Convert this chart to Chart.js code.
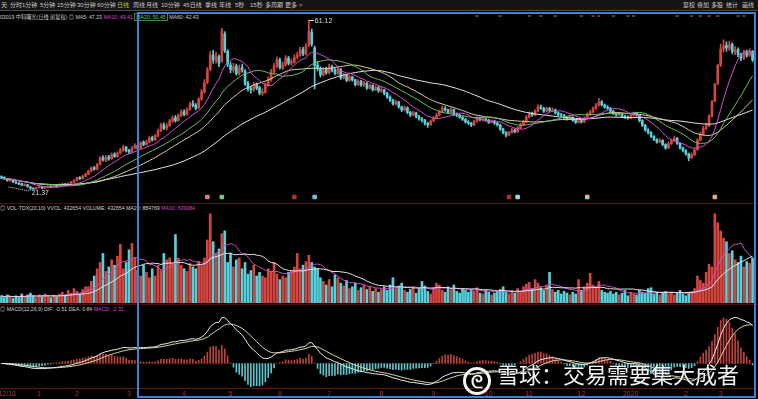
<!DOCTYPE html>
<html>
<head>
<meta charset="utf-8">
<script src="https://cdn.jsdelivr.net/npm/chart.js@4.4.0/dist/chart.umd.min.js"></script>
<style>
  body { margin:0; background:#000; width:758px; height:399px; overflow:hidden; position:relative;
         font-family:"Liberation Sans","Noto Sans CJK SC",sans-serif; }
  .abs { position:absolute; white-space:nowrap; }
  #tb { left:0; top:0; width:758px; height:10px; background:#151515; border-bottom:1px solid #4a4a4a; }
  #tb span, #tbr span { position:absolute; top:1px; font-size:6px; line-height:8px; color:#c8c8c8; }
  #tb span.on { color:#b8c85a; }
  .lg { font-size:5.2px; line-height:6px; color:#d0d0d0; }
  .lg .m { color:#d048d0; }
  .lg .g { color:#7cc070; border:1px solid #3f8a3f; padding:0 1px; }
  .sepr { left:0; width:758px; height:1px; background:#4a0e0e; }
  #box { left:137px; top:12px; width:619px; height:386px; box-sizing:border-box; border:2px solid #3a83d4; pointer-events:none; }
  .pane { position:absolute; left:0; width:754px; }
  #wm { left:463px; top:359px; color:#f4f4f4; font-size:22px; line-height:28px;
        text-shadow:0 0 2px #000; font-family:"Noto Sans CJK SC",sans-serif; }
  #logo { display:inline-block; width:22px; height:22px; border:3px solid #f4f4f4; border-radius:50%;
          vertical-align:-5px; margin-right:6px; text-align:center; font-size:17px; line-height:21px; font-weight:bold; }
</style>
</head>
<body>
<div id="tb" class="abs">
  <span style="left:1px">天</span><span style="left:6px;color:#777">|</span>
  <span style="left:10px">分时</span><span style="left:22px">1分钟</span><span style="left:40px">5分钟</span>
  <span style="left:57px">15分钟</span><span style="left:77px">30分钟</span><span style="left:97px">60分钟</span>
  <span class="on" style="left:117px">日线</span><span style="left:133px">周线</span><span style="left:146px">月线</span>
  <span style="left:161px">10分钟</span><span style="left:183px">45日线</span><span style="left:205px">季线</span>
  <span style="left:219px">年线</span><span style="left:235px">5秒</span><span style="left:250px">15秒</span>
  <span style="left:265px">多周期</span><span style="left:285px">更多 &gt;</span>
</div>
<div id="tbr" class="abs" style="left:0;top:0">
  <span style="left:683px">复权</span><span style="left:697px">叠加</span><span style="left:711px">多股</span>
  <span style="left:726px">统计</span><span style="left:742px">画线</span>
</div>

<div class="abs lg" style="left:-3px;top:14px">603019 中科曙光(日线 前复权) ◎ MA5: 47.23 <span class="m">MA10: 49.41</span> <span class="g">MA20: 50.45</span> MA60: 42.43</div>

<div class="pane" id="pMain" style="top:12px;height:190px"><canvas id="cMain"></canvas></div>
<div class="abs sepr" style="top:203px"></div>
<div class="abs lg" style="left:0;top:205px">◎ VOL-TDX(20,10) VVOL: 432654 VOLUME: 432654 MA20: 884769 <span class="m">MA10: 639984</span></div>
<div class="pane" id="pVol" style="top:212px;height:91px"><canvas id="cVol"></canvas></div>
<div class="abs sepr" style="top:304px"></div>
<div class="abs lg" style="left:0;top:306px">◎ MACD(12,26,9) DIF: -0.51 DEA: 0.84 <span class="m">MACD: -2.31</span></div>
<div class="pane" id="pMacd" style="top:310px;height:89px"><canvas id="cMacd"></canvas></div>

<div id="box" class="abs"></div>
<div id="wm" class="abs"><span id="logo">ᘓ</span>雪球：交易需要集大成者</div>

<script>
// daily candles (front-adjusted price)
const opens = [
  24.5,24.3,23.9,23.5,23.8,23.2,23.0,22.9,22.4,22.6, 22.1,21.8,21.6,21.9,22.1,21.8,22.0,22.3,22.1,22.5,
  22.2,22.6,22.8,22.5,22.9,23.1,23.6,24.3,24.0,24.6, 25.0,25.8,26.6,26.2,27.4,28.9,28.3,29.1,28.7,29.7,
  29.2,30.0,30.6,31.4,30.7,30.3,31.2,31.8,31.1,32.5, 32.0,32.6,33.6,33.1,34.0,35.2,36.6,35.8,36.4,37.5,
  38.3,37.6,38.8,39.7,39.0,40.2,41.6,41.2,40.6,42.6, 44.3,46.6,49.5,53.0,51.6,52.6,51.5,57.8,53.8,50.6,
  49.4,50.3,48.6,50.0,49.2,46.3,45.1,44.8,46.0,45.3, 44.0,44.2,45.9,47.1,49.0,50.4,51.8,49.9,50.6,52.2,
  51.0,51.2,52.5,52.9,54.2,53.1,55.2,58.2,54.6,50.6, 49.8,48.3,49.6,48.8,50.2,49.4,48.6,49.5,47.6,48.2,
  47.0,47.8,47.1,46.0,46.8,45.9,46.3,45.2,45.8,44.8, 45.3,44.5,44.8,44.0,43.1,42.4,41.5,42.0,40.8,40.1,
  40.6,39.5,38.9,39.4,38.5,38.0,37.7,37.0,36.6,37.5, 38.2,38.9,39.6,40.5,40.1,39.5,40.2,39.0,38.9,38.4,
  37.9,37.3,37.0,36.6,37.4,38.2,37.8,38.0,37.7,37.2, 37.5,37.0,36.6,35.6,34.8,34.2,34.8,35.4,35.0,35.9,
  36.6,37.3,38.4,39.2,38.9,39.8,40.8,40.5,39.8,40.4, 40.0,40.1,39.4,39.0,38.9,38.3,38.0,38.4,37.7,37.2,
  37.6,37.3,38.2,39.0,39.6,40.4,41.2,42.0,41.3,40.8, 40.5,39.8,39.3,38.9,39.2,38.6,38.4,38.2,38.8,39.3,
  38.9,37.6,36.5,35.4,34.8,33.9,33.2,32.6,33.0,32.0, 31.2,32.2,32.9,33.5,32.3,31.2,30.6,29.8,28.9,29.6,
  30.8,33.0,34.5,35.8,36.4,38.6,42.1,46.3,50.6,54.4, 55.2,54.5,55.4,53.6,54.2,53.0,52.2,53.5,52.9,53.8
];
const highs = [
  24.7,24.5,24.0,24.0,23.9,23.4,23.1,23.0,22.8,22.7, 22.2,21.9,22.0,22.3,22.2,22.2,22.5,22.4,22.6,22.6,
  22.8,23.0,22.9,23.1,23.4,23.8,24.4,24.5,24.8,25.3, 26.0,26.8,26.9,27.6,29.2,29.4,29.4,29.5,30.0,30.1,
  30.3,31.1,31.8,31.6,30.9,31.5,32.2,32.0,32.7,32.9, 33.0,33.9,34.0,34.4,35.6,37.0,37.1,36.9,37.9,38.7,
  38.8,39.2,40.1,40.2,40.6,42.0,42.3,41.6,43.0,44.9, 47.2,50.0,53.8,54.0,53.6,53.0,59.2,58.4,54.2,51.3,
  51.0,50.8,50.6,50.8,49.5,46.8,45.6,46.5,46.4,45.6, 45.0,46.4,47.8,49.6,51.0,52.5,52.2,51.3,52.8,52.6,
  52.0,53.0,53.6,54.8,54.7,55.6,61.12,59.0,55.0,51.5, 50.2,50.0,50.1,50.8,50.6,49.8,50.1,49.8,48.7,48.4,
  48.2,48.0,47.3,47.2,47.0,46.8,46.6,46.2,46.0,45.8, 45.6,45.4,45.0,44.2,43.4,42.6,42.4,42.1,41.0,41.0,
  40.8,39.8,39.8,39.6,38.8,38.3,37.9,37.2,37.8,38.6, 39.3,40.0,41.0,40.9,40.3,40.6,40.3,39.4,39.1,38.6,
  38.1,37.6,37.2,37.7,38.5,38.4,38.4,38.2,37.9,37.8, 37.7,37.2,36.8,35.8,35.0,35.1,35.8,35.6,36.2,37.0,
  37.7,38.8,39.6,39.6,40.2,41.3,41.2,40.7,40.8,40.7, 40.6,40.3,39.6,39.3,39.0,38.5,38.7,38.5,37.9,37.9,
  37.8,38.5,39.4,40.0,40.8,41.6,42.8,42.3,41.5,41.1, 40.7,40.0,39.5,39.5,39.3,38.9,38.7,39.1,39.6,39.5,
  39.0,37.8,36.7,35.7,35.0,34.1,33.4,33.4,33.1,32.2, 32.6,33.3,34.0,33.6,32.4,31.4,30.8,30.0,30.0,31.1,
  33.4,34.9,36.2,37.0,39.0,42.3,46.2,50.8,55.5,56.5, 56.0,56.2,55.8,54.9,54.6,53.4,54.0,54.1,54.4,54.0
];
const lows = [
  24.0,23.8,23.4,23.4,23.1,22.8,22.6,22.4,22.3,22.0, 21.37,21.5,21.5,21.8,21.7,21.7,21.9,21.9,22.0,22.0,
  22.1,22.4,22.3,22.4,22.8,23.0,23.5,23.8,23.9,24.4, 24.9,25.6,26.0,26.0,27.2,28.1,28.0,28.3,28.5,29.0,
  29.0,29.8,30.4,30.3,29.9,30.1,31.0,30.7,30.9,31.7, 31.8,32.4,32.8,32.9,33.8,35.0,35.5,35.4,36.2,37.2,
  37.2,37.4,38.5,38.7,38.8,40.0,40.8,40.1,40.4,42.3, 44.0,46.2,49.2,51.0,51.0,50.2,51.2,53.5,50.2,48.8,
  48.9,48.2,48.2,48.9,45.8,44.5,44.0,44.4,44.8,43.6, 43.5,44.0,45.6,46.8,48.6,50.0,49.6,49.5,50.3,50.6,
  50.5,51.0,52.0,52.6,52.8,52.9,54.8,55.0,45.0,49.2, 47.8,48.0,48.4,48.5,49.0,48.3,48.4,47.2,47.3,46.7,
  46.8,46.8,45.7,45.8,45.6,45.6,44.9,45.0,44.5,44.6, 44.2,44.2,43.6,42.8,42.0,41.2,41.2,40.5,39.7,39.8,
  39.2,38.5,38.7,38.2,37.7,37.3,36.6,36.0,36.4,37.3, 38.0,38.7,39.4,39.8,39.2,39.3,38.7,38.5,38.1,37.6,
  37.0,36.7,36.2,36.4,37.2,37.5,37.5,37.4,36.9,37.0, 36.7,36.3,35.3,34.5,33.8,34.0,34.6,34.7,34.8,35.7,
  36.4,37.1,38.2,38.6,38.7,39.6,40.2,39.5,39.6,39.7, 39.7,39.1,38.7,38.6,38.0,37.7,37.8,37.4,36.9,37.0,
  37.0,37.1,38.0,38.8,39.4,40.2,41.0,41.0,40.5,40.2, 39.5,39.0,38.6,38.7,38.3,38.1,37.9,38.0,38.6,38.6,
  37.3,36.2,35.1,34.5,33.6,32.9,32.3,32.4,31.7,30.9, 31.0,32.0,32.7,32.0,30.9,30.3,29.5,28.2,28.7,29.4,
  30.6,32.8,34.2,35.5,36.2,38.4,42.0,46.0,50.2,53.6, 53.8,54.0,53.2,53.0,52.5,51.6,51.9,52.4,52.6,51.4
];
const closes = [
  24.2,24.0,23.6,23.8,23.3,23.0,22.8,22.5,22.6,22.2, 21.8,21.6,21.9,22.1,21.8,22.0,22.3,22.1,22.4,22.2,
  22.6,22.8,22.5,22.9,23.2,23.6,24.2,24.0,24.6,25.1, 25.8,26.5,26.2,27.3,28.9,28.4,29.0,28.6,29.6,29.2,
  30.0,30.7,31.4,30.6,30.2,31.2,31.8,31.0,32.4,32.0, 32.6,33.5,33.1,34.0,35.2,36.6,35.8,36.4,37.5,38.2,
  37.6,38.8,39.6,39.0,40.2,41.5,41.2,40.5,42.6,44.3, 46.5,49.4,52.9,51.8,52.5,51.0,58.6,54.0,50.8,49.5,
  50.2,48.6,49.8,49.4,46.2,45.0,44.8,46.0,45.2,44.0, 44.3,45.9,47.2,49.0,50.4,51.8,50.0,50.6,52.2,51.0,
  51.3,52.4,52.9,54.1,53.2,55.0,58.5,55.5,50.5,49.9, 48.3,49.5,48.8,50.2,49.4,48.7,49.6,47.6,48.2,47.0,
  47.8,47.1,46.0,46.8,45.9,46.4,45.2,45.8,44.8,45.3, 44.6,44.8,44.0,43.1,42.4,41.5,42.0,40.8,40.1,40.6,
  39.5,38.9,39.4,38.5,38.0,37.7,37.0,36.6,37.5,38.2, 38.9,39.6,40.5,40.1,39.5,40.2,39.0,38.9,38.4,37.9,
  37.3,37.0,36.6,37.4,38.2,37.8,38.0,37.7,37.2,37.5, 37.0,36.6,35.6,34.8,34.2,34.8,35.4,35.0,35.9,36.6,
  37.3,38.4,39.2,38.9,39.8,40.8,40.5,39.8,40.4,40.0, 40.1,39.4,39.0,38.9,38.3,38.0,38.4,37.7,37.2,37.6,
  37.3,38.2,39.0,39.6,40.4,41.2,42.0,41.3,40.8,40.5, 39.8,39.3,38.9,39.2,38.6,38.4,38.2,38.8,39.3,38.9,
  37.6,36.5,35.4,34.8,33.9,33.2,32.6,33.0,32.0,31.2, 32.2,32.9,33.5,32.3,31.2,30.6,29.8,28.9,29.6,30.7,
  33.0,34.5,35.8,36.4,38.5,42.0,46.2,50.5,54.3,55.0, 54.6,55.3,53.7,54.1,53.0,52.2,53.5,52.9,53.8,51.8
];
// volume, relative units (tallest bar = 99)
const volumes = [
  8,6,9,7,5,8,6,10,7,9, 11,8,6,9,7,10,8,6,9,7,
  10,12,9,14,11,16,13,10,15,18, 18,24,30,38,45,55,35,40,48,42,
  52,65,38,45,59,66,50,36,30,42, 34,28,38,30,42,36,55,48,50,44,
  76,50,42,38,35,44,40,38,46,42, 50,70,99,68,55,60,77,80,45,55,
  40,48,50,38,45,32,36,42,30,34, 30,28,38,35,45,32,26,30,28,34,
  36,40,55,38,42,46,53,45,40,38, 28,24,20,26,18,31,28,22,19,25,
  16,18,22,14,17,20,15,18,13,16, 12,15,18,14,20,28,16,19,22,14,
  12,15,18,11,16,24,19,13,10,17, 22,20,14,12,18,15,20,13,11,16,
  14,12,15,13,17,11,10,14,12,9, 11,13,15,18,12,10,14,11,16,12,
  18,21,23,16,26,22,17,14,20,34, 15,12,14,10,13,11,9,12,10,26,
  14,18,22,33,20,17,24,14,12,11, 13,10,12,9,11,14,8,12,10,9,
  14,12,11,16,17,10,12,9,11,13, 10,12,9,11,14,10,8,12,13,16,
  30,25,22,34,43,40,99,89,80,72, 68,55,58,48,45,52,40,46,44,50
];
const days = closes.map((_, i) => i);

// date axis ticks (day index -> text)
const monthIdx = [2, 13, 26, 44, 63, 79, 96, 113, 131, 149, 168, 182, 200, 217, 236, 248];
const monthTxt = ['12/18', '1', '2', '3', '4', '5', '6', '7', '8', '9', '10', '11', '12', '2020', '2', '3'];

// event icons under the candles, info marks at the top
const eventIdx = [71, 76, 101, 108, 175, 178, 202, 246];
const eventClr = ['#e07a8a', '#7ccf7c', '#b83030', '#6cc8d8', '#b83030', '#a8d8e8', '#d8c0a0', '#e8b090'];
const infoIdx = [164, 172, 182, 186, 191, 200, 204, 206, 211, 216, 218, 233, 238, 241, 244, 247, 254, 256];

const hiIdx = 106, hiVal = 61.12, loIdx = 10, loVal = 21.37;

const UP = '#d4453f', DN = '#56d0da';
const isUp = i => closes[i] >= opens[i];
const candleClr = ctx => isUp(ctx.dataIndex) ? UP : DN;

function sma(arr, n) {
  return arr.map((_, i) => {
    const s = Math.max(0, i - n + 1);
    let t = 0;
    for (let k = s; k <= i; k++) t += arr[k];
    return t / (i - s + 1);
  });
}
function ema(arr, n) {
  const a = 2 / (n + 1), out = [];
  arr.forEach((v, i) => out.push(i ? out[i - 1] + a * (v - out[i - 1]) : v));
  return out;
}

const e12 = ema(closes, 12), e26 = ema(closes, 26);
const dif = e12.map((v, i) => v - e26[i]);
const dea = ema(dif, 9);
const hist = dif.map((v, i) => 2 * (v - dea[i]));

Chart.defaults.font.family = 'Liberation Sans';
Chart.defaults.animation = false;
Chart.defaults.events = [];

const baseOpts = (yMin, yMax) => ({
  responsive: true, maintainAspectRatio: false,
  layout: {padding: 0, autoPadding: false},
  plugins: {legend: {display: false}, tooltip: {enabled: false}},
  scales: {
    x: {display: false, offset: true},
    y: {display: false, min: yMin, max: yMax}
  }
});

const line = (data, color, order) => ({
  type: 'line', data, borderColor: color, borderWidth: 1, pointRadius: 0, tension: 0, order
});

const priceMarks = {
  id: 'priceMarks',
  afterDatasetsDraw(chart) {
    const {ctx, scales: {x, y}} = chart;
    ctx.save();
    ctx.font = '7px Liberation Sans';
    ctx.fillStyle = '#d8d8d8';
    ctx.strokeStyle = '#d8d8d8';
    ctx.lineWidth = 1;
    let px = x.getPixelForValue(hiIdx), py = y.getPixelForValue(hiVal);
    ctx.beginPath(); ctx.moveTo(px, py + 0.5); ctx.lineTo(px + 5, py + 0.5); ctx.stroke();
    ctx.fillText(hiVal.toFixed(2), px + 6, py + 3);
    px = x.getPixelForValue(loIdx); py = y.getPixelForValue(loVal);
    ctx.setLineDash([1, 1]);
    ctx.beginPath(); ctx.moveTo(px - 22, py - 3); ctx.lineTo(px - 1, py + 1); ctx.stroke();
    ctx.setLineDash([]);
    ctx.fillText(loVal.toFixed(2), px + 1, py + 5);
    ctx.restore();
  }
};

// price pane
new Chart(document.getElementById('cMain'), {
  type: 'bar',
  data: {
    labels: days,
    datasets: [
      line(sma(closes, 10), '#d24fd2', 0),
      line(sma(closes, 20), '#6cbc6c', 0),
      line(sma(closes, 30), '#d8d09c', 0),
      line(sma(closes, 60), '#e6e6e6', 0),
      {type: 'scatter', data: infoIdx.map(i => ({x: i, y: 62.05})), pointStyle: 'line',
       pointRadius: 1.5, borderColor: '#c86fb8', borderWidth: 1, order: 0},
      {type: 'scatter', data: eventIdx.map(i => ({x: i, y: 19.73})), pointStyle: 'rect',
       pointRadius: 2.5, backgroundColor: eventClr, borderColor: eventClr, order: 0},
      {label: 'body', data: opens.map((o, i) => [o, closes[i]]), backgroundColor: candleClr,
       barThickness: 2, grouped: false, order: 1},
      {label: 'wick', data: lows.map((l, i) => [l, highs[i]]), backgroundColor: candleClr,
       barThickness: 1, grouped: false, order: 2}
    ]
  },
  options: baseOpts(18.56, 62.99),
  plugins: [priceMarks]
});

// volume pane
new Chart(document.getElementById('cVol'), {
  type: 'bar',
  data: {
    labels: days,
    datasets: [
      line(sma(volumes, 20), '#e6e6e6', 0),
      line(sma(volumes, 10), '#c84fc8', 0),
      {data: volumes, backgroundColor: candleClr, barThickness: 2, order: 1}
    ]
  },
  options: baseOpts(0, 101)
});

// MACD pane
const macdOpts = baseOpts(-3.0, 6.4);
macdOpts.scales.x = {
  display: true, offset: true,
  grid: {display: false, drawTicks: false},
  border: {display: true, color: '#5a1414', dash: [2, 2]},
  ticks: {
    autoSkip: false, maxRotation: 0, padding: 1, color: '#a83232', font: {size: 7},
    callback: (v, i) => { const k = monthIdx.indexOf(i); return k < 0 ? '' : monthTxt[k]; }
  }
};
new Chart(document.getElementById('cMacd'), {
  type: 'bar',
  data: {
    labels: days,
    datasets: [
      line(dif, '#ececec', 0),
      line(dea, '#dcd49e', 0),
      {data: hist, backgroundColor: ctx => hist[ctx.dataIndex] >= 0 ? '#c0403c' : '#5cc4cc',
       barThickness: 1, order: 1}
    ]
  },
  options: macdOpts
});
</script>
</body>
</html>
